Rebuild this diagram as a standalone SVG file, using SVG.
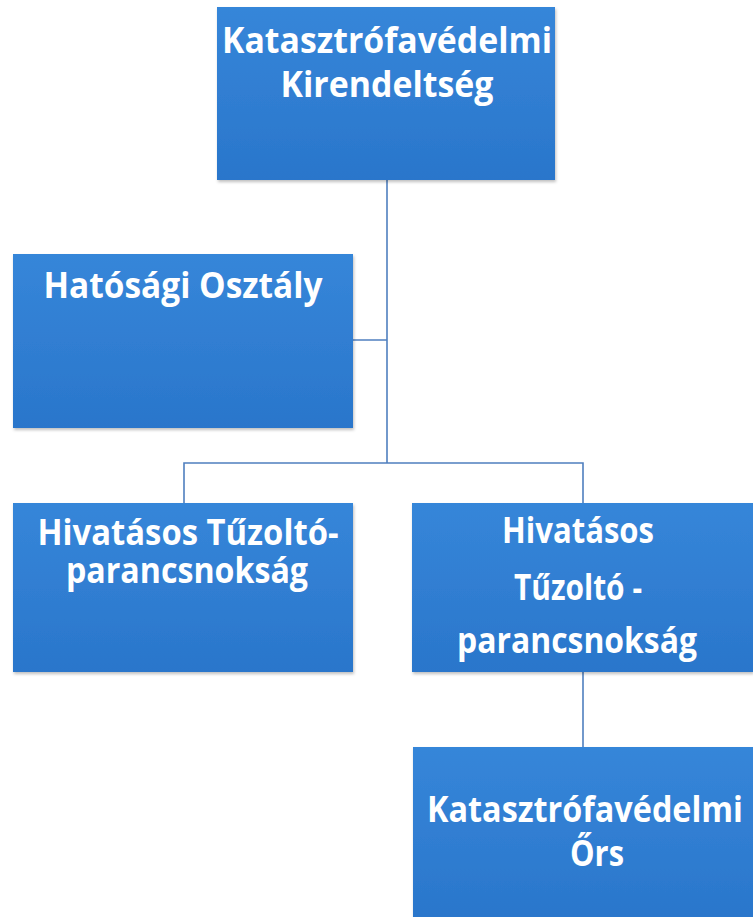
<svg xmlns="http://www.w3.org/2000/svg" width="753" height="917" viewBox="0 0 753 917">
<style>
.box{fill:url(#g);filter:url(#sh)}
.t{font-family:"Open Sans","Liberation Sans",sans-serif;font-weight:bold;font-size:35px;fill:#ffffff;text-anchor:middle}
.c{stroke:#4f7fbf;stroke-width:1.6;fill:none}
</style>
<defs>
<linearGradient id="g" x1="0" y1="0" x2="0" y2="1">
<stop offset="0" stop-color="#3686d9"/>
<stop offset="1" stop-color="#2a76cb"/>
</linearGradient>
<filter id="sh" x="-5%" y="-5%" width="110%" height="115%">
<feDropShadow dx="1" dy="2" stdDeviation="1.5" flood-color="#000" flood-opacity="0.25"/>
</filter>
</defs>
<rect width="753" height="917" fill="#ffffff"/>
<g id="connectors">
<path class="c" d="M387 180 V463"/>
<path class="c" d="M353 340 H387"/>
<path class="c" d="M184 503 V463 H583 V503"/>
<path class="c" d="M583 672 V747"/>
</g>
<g id="n1">
<rect class="box" x="217" y="7" width="338" height="173"/>
<text class="t" x="387" y="53" textLength="330" lengthAdjust="spacingAndGlyphs">Katasztrófavédelmi</text>
<text class="t" x="387" y="97" textLength="213" lengthAdjust="spacingAndGlyphs">Kirendeltség</text>
</g>
<g id="n2">
<rect class="box" x="13" y="254" width="340" height="174"/>
<text class="t" x="183" y="298" textLength="279" lengthAdjust="spacingAndGlyphs">Hatósági Osztály</text>
</g>
<g id="n3">
<rect class="box" x="13" y="503" width="340" height="169"/>
<text class="t" x="188" y="545" textLength="301" lengthAdjust="spacingAndGlyphs">Hivatásos Tűzoltó-</text>
<text class="t" x="187" y="583" textLength="242" lengthAdjust="spacingAndGlyphs">parancsnokság</text>
</g>
<g id="n4">
<rect class="box" x="412" y="503" width="341" height="169"/>
<text class="t" x="578" y="543" textLength="152" lengthAdjust="spacingAndGlyphs">Hivatásos</text>
<text class="t" x="578" y="600" textLength="128" lengthAdjust="spacingAndGlyphs">Tűzoltó -</text>
<text class="t" x="577" y="653" textLength="240" lengthAdjust="spacingAndGlyphs">parancsnokság</text>
</g>
<g id="n5">
<rect class="box" x="413" y="747" width="340" height="175"/>
<text class="t" x="585" y="822" textLength="316" lengthAdjust="spacingAndGlyphs">Katasztrófavédelmi</text>
<text class="t" x="597" y="866" textLength="54" lengthAdjust="spacingAndGlyphs">Őrs</text>
</g>
</svg>
